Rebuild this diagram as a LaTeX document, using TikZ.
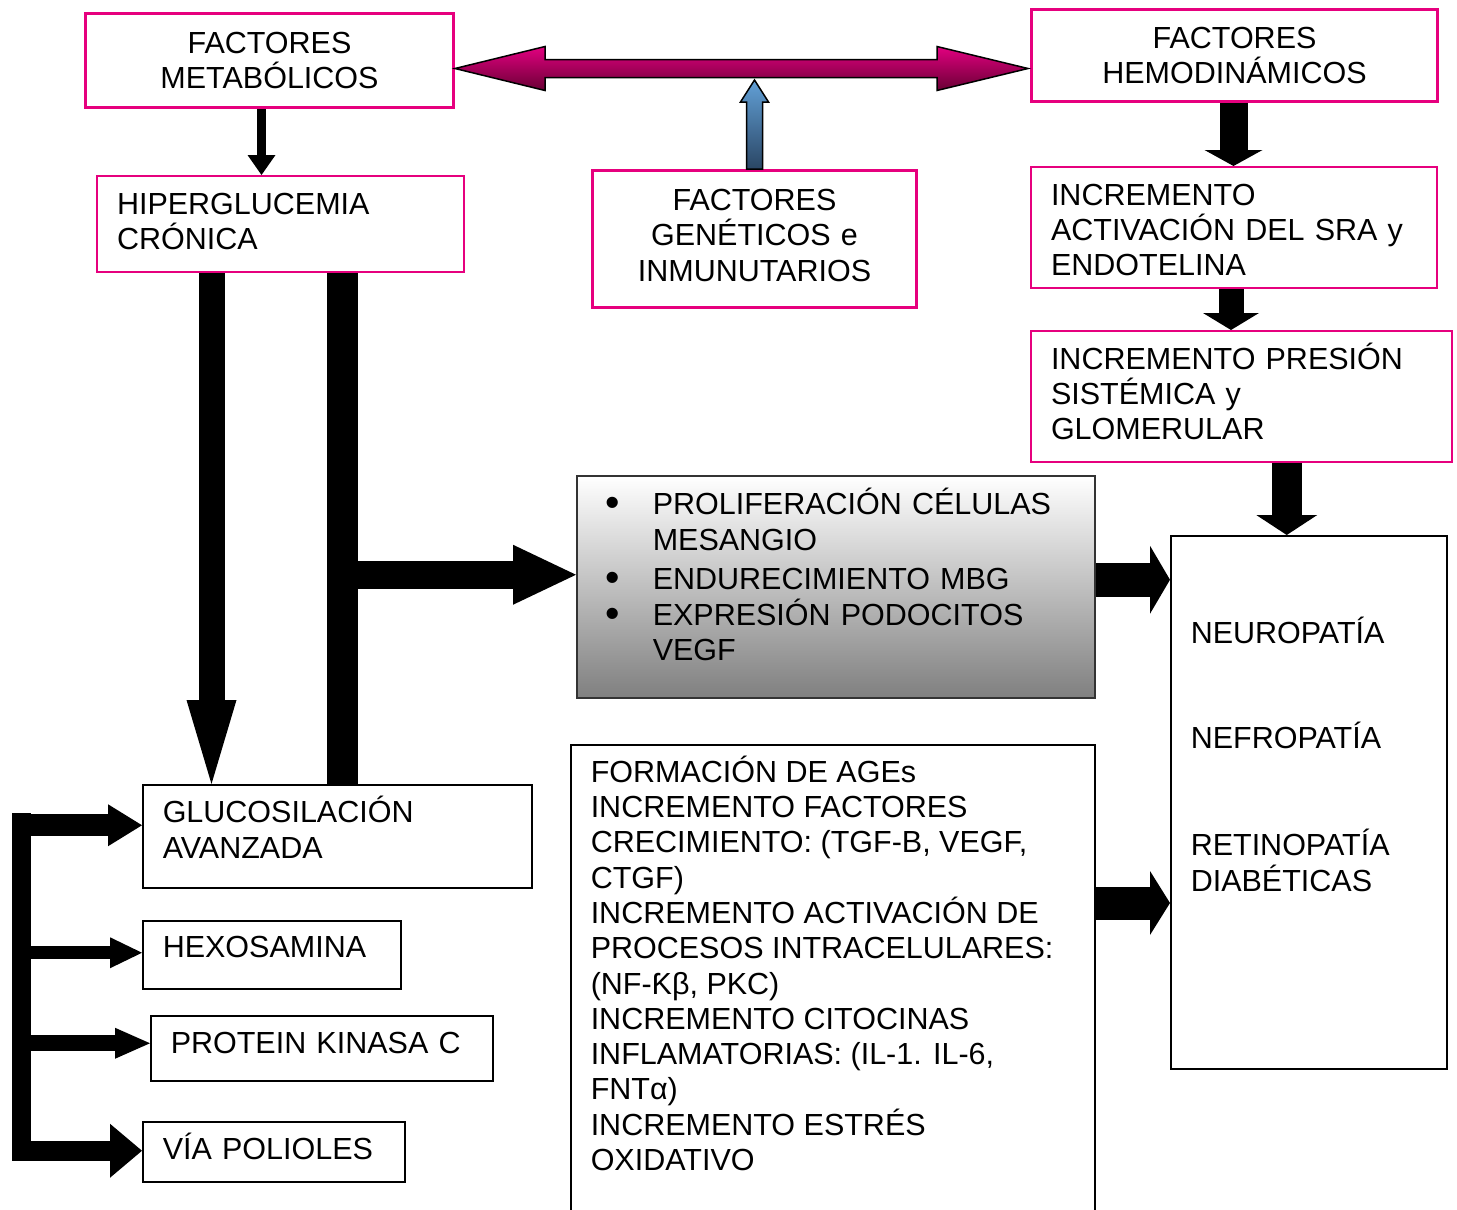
\documentclass[tikz,border=0pt]{standalone}
\usepackage{fontspec}
\setmainfont{Liberation Sans}
\usetikzlibrary{arrows.meta,positioning}

\definecolor{magline}{RGB}{230,0,126}
\definecolor{magtop}{RGB}{226,0,128}
\definecolor{magbot}{RGB}{105,0,52}
\definecolor{skytop}{RGB}{98,160,215}
\definecolor{skybot}{RGB}{42,70,100}

\newcommand{\bigdot}{\makebox[76pt][l]{\hspace*{29pt}\raisebox{-2pt}{\scalebox{1.35}{\textbullet}}}}

\begin{document}
\begin{tikzpicture}[x=1pt, y=-1pt, font=\fontsize{30.5}{35.3}\selectfont,
    magbox/.style={draw=magline, line width=3pt, fill=white, inner xsep=20pt, inner ysep=0pt, anchor=north west},
    magthin/.style={magbox, line width=2pt},
    plainbox/.style={draw=black, line width=1.5pt, fill=white, inner xsep=20pt, inner ysep=0pt, anchor=north west},
    lift/.style={text height=27pt, text depth=#1pt},
    blk/.style n args={3}{draw=black, line width=#1pt, -{Triangle[length=#2pt, width=#3pt, line width=0pt]}}]
    \useasboundingbox (0,0) rectangle (1457,1210);

    % Factor boxes
    \node[magbox, align=center, text width=328pt, minimum height=94pt] (fm) at (84,12) {FACTORES\\METABÓLICOS};
    \node[magbox, align=center, text width=366pt, minimum height=92pt] (fh) at (1030,8) {FACTORES\\HEMODINÁMICOS};
    \node[magbox, align=center, text width=284pt, minimum height=137pt, lift=84] (fg) at (591,169) {FACTORES\\GENÉTICOS e\\INMUNUTARIOS};
    \node[magthin, align=left, text width=327pt, minimum height=96pt, lift=47] (hc) at (96,175) {HIPERGLUCEMIA\\CRÓNICA};
    \node[magthin, align=left, text width=366pt, minimum height=121pt, lift=72] (sra) at (1030,166) {INCREMENTO\\ACTIVACIÓN DEL SRA y\\ENDOTELINA};
    \node[magthin, align=left, text width=381pt, minimum height=131pt, lift=82] (pres) at (1030,330) {INCREMENTO PRESIÓN\\SISTÉMICA y\\GLOMERULAR};

    % Middle boxes
    \node[draw=black!80, line width=1.5pt, top color=white, bottom color=black!50, anchor=north west, align=left,
          text width=518pt, inner xsep=0pt, inner ysep=0pt, minimum height=222pt, lift=171] (prol) at (576,475)
        {\bigdot PROLIFERACIÓN CÉLULAS\\
         \hspace*{76pt}MESANGIO\\[4pt]
         \bigdot ENDURECIMIENTO MBG\\[1pt]
         \bigdot EXPRESIÓN PODOCITOS\\
         \hspace*{76pt}VEGF};
    \node[plainbox] (age) at (570,744) {\parbox[c][500pt][t]{484pt}{\vspace*{11pt}FORMACIÓN DE AGEs\\
        INCREMENTO FACTORES\\CRECIMIENTO: (TGF-B, VEGF,\\CTGF)\\
        INCREMENTO ACTIVACIÓN DE\\PROCESOS INTRACELULARES:\\(NF-Ƙβ, PKC)\\
        INCREMENTO CITOCINAS\\INFLAMATORIAS: (IL-1. IL-6,\\FNTα)\\
        INCREMENTO ESTRÉS\\OXIDATIVO}};
    \node[plainbox] (neu) at (1170,535) {\parbox[c][533pt][t]{236pt}{\vspace*{81pt}NEUROPATÍA\\[70pt]
        NEFROPATÍA\\[72pt]RETINOPATÍA\\DIABÉTICAS}};

    % Pathway boxes
    \node[plainbox, align=left, text width=349pt, minimum height=103pt, lift=54] (glu) at (142,784) {GLUCOSILACIÓN\\AVANZADA};
    \node[plainbox, align=left, text width=218pt, minimum height=68pt, lift=21] (hex) at (142,920) {HEXOSAMINA};
    \node[plainbox, align=left, text width=302pt, minimum height=65pt, lift=16] (pkc) at (150,1015) {PROTEIN KINASA C};
    \node[plainbox, align=left, text width=222pt, minimum height=60pt, lift=11] (via) at (142,1121) {VÍA POLIOLES};

    % Shaded arrows at the top
    \draw[line width=1.5pt, top color=magtop, bottom color=magbot] ([yshift=-8pt]fm.east) -- ++(90,-22) -- ++(0,13)
        -- ++(392,0) -- ++(0,-13) -- ++(91,22) -- ++(-91,22) -- ++(0,-13) -- ++(-392,0) -- ++(0,13) -- cycle;
    \draw[line width=1.5pt, top color=skytop, bottom color=skybot] ([xshift=-8pt]fg.north) -- ++(0,-67) -- ++(-6,0)
        -- ++(14,-22) -- ++(14,22) -- ++(-6,0) -- ++(0,67) -- cycle;

    % Black arrows
    \draw[blk={9}{20}{28}] ([xshift=-8pt]fm.south) -- ([xshift=-8pt]fm.south |- hc.north);
    \draw[blk={28}{16}{58}] ([xshift=-1pt]fh.south) -- ([xshift=-1pt]fh.south |- sra.north);
    \draw[blk={25}{17}{56}] ([xshift=-3pt]sra.south) -- ([xshift=-3pt]sra.south |- pres.north);
    \draw[blk={30}{20}{61}] ([xshift=-22pt]neu.north |- pres.south) -- ([xshift=-22pt]neu.north);
    \draw[blk={26}{84}{50}] ([xshift=-69pt]hc.south) -- ([xshift=-69pt]hc.south |- glu.north);
    \draw[line width=31pt] ([xshift=62pt]hc.south) coordinate (spine) -- ([xshift=62pt]hc.south |- glu.north);
    \draw[blk={28}{63}{60}] ([yshift=12pt]prol.west -| spine) -- ([yshift=12pt]prol.west);
    \draw[blk={34}{20}{68}] ([yshift=7pt]prol.east) -- ([yshift=7pt]prol.east -| neu.west);
    \draw[blk={33}{20}{64}] ([yshift=-159pt]age.north east) -- ([yshift=-159pt]age.north east -| neu.west);

    % Left rail to the pathways
    \coordinate (railtop) at (21,813);
    \coordinate (railbot) at (21,1161);
    \draw[line width=19pt] (railtop) -- (railbot);
    \draw[blk={22}{34}{42}] ([yshift=11pt]glu.west -| railtop) -- ([yshift=11pt]glu.west);
    \draw[blk={13}{32}{31}] ([yshift=2pt]hex.west -| railtop) -- ([yshift=2pt]hex.west);
    \draw[blk={16}{35}{31}] ([yshift=5pt]pkc.west -| railtop) -- ([yshift=5pt]pkc.west);
    \draw[blk={20}{32}{54}] ([yshift=1pt]via.west -| railtop) -- ([yshift=1pt]via.west);
\end{tikzpicture}
\end{document}
